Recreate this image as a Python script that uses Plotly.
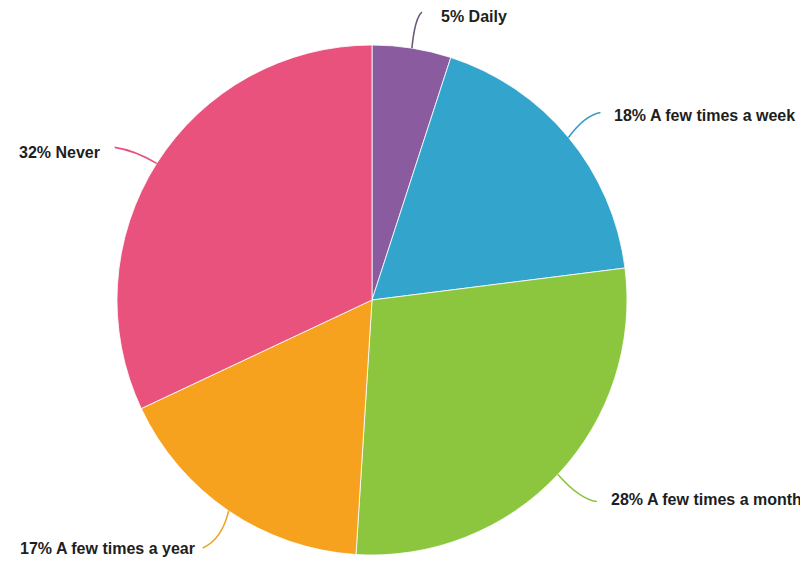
import math
import plotly.graph_objects as go

# ---- data ----
categories = ["Daily", "A few times a week", "A few times a month", "A few times a year", "Never"]
percent_values = [5, 18, 28, 17, 32]
slice_colors = ["#8a5b9f", "#33a4cc", "#8cc63f", "#f6a21e", "#e8527c"]
line_colors = ["#6e5a78", "#3b9bbf", "#8cc63f", "#e9a62c", "#e8527c"]

# page body adds an 8px offset; size the figure to fit the window
W, H = 800, 558
CX, CY, R = 364, 292, 255

# label layout: (line end offset dx, dy), control offset, text offset, anchor
label_layout = [
    dict(end=(10, -36), ctrl=(3, -30), text=(17, 4), anchor="left"),
    dict(end=(32, -25), ctrl=(16, -22), text=(12, 3), anchor="left"),
    dict(end=(39, 27), ctrl=(22, 25), text=(12, -2), anchor="left"),
    dict(end=(-26, 37), ctrl=(-7, 29), text=(-6, 1), anchor="right"),
    dict(end=(-42, -16), ctrl=(-22, -13), text=(-13, 5), anchor="right"),
]

def px(x):
    return x / W

def py(y):
    return 1 - y / H

fig = go.Figure()
fig.add_trace(go.Pie(
    labels=categories,
    values=percent_values,
    sort=False,
    direction="clockwise",
    rotation=0,
    marker=dict(colors=slice_colors, line=dict(color="white", width=0.8)),
    textinfo="none",
    hoverinfo="label+percent",
    showlegend=False,
    domain=dict(x=[px(CX - R), px(CX + R)], y=[py(CY + R), py(CY - R)]),
))

shapes = []
annotations = []
total = sum(percent_values)
cum = 0
for cat, v, lc, lay in zip(categories, percent_values, line_colors, label_layout):
    mid = (cum + v / 2) / total * 2 * math.pi
    cum += v
    sx = CX + R * math.sin(mid)
    sy = CY - R * math.cos(mid)
    ex, ey = sx + lay["end"][0], sy + lay["end"][1]
    cx, cy = sx + lay["ctrl"][0], sy + lay["ctrl"][1]
    path = f"M {px(sx)},{py(sy)} Q {px(cx)},{py(cy)} {px(ex)},{py(ey)}"
    shapes.append(dict(type="path", path=path, xref="paper", yref="paper",
                       line=dict(color=lc, width=1.6)))
    tx, ty = ex + lay["text"][0], ey + lay["text"][1]
    annotations.append(dict(
        x=px(tx), y=py(ty), xref="paper", yref="paper",
        text=f"{v}% {cat}", showarrow=False,
        xanchor=lay["anchor"], yanchor="middle",
        font=dict(family="Liberation Sans, Arial, sans-serif", size=16, color="#1e1e1e", weight="bold"),
    ))

fig.update_layout(
    width=W, height=H,
    margin=dict(l=0, r=0, t=0, b=0),
    paper_bgcolor="white",
    plot_bgcolor="white",
    shapes=shapes,
    annotations=annotations,
)

fig.write_html("out.html")
